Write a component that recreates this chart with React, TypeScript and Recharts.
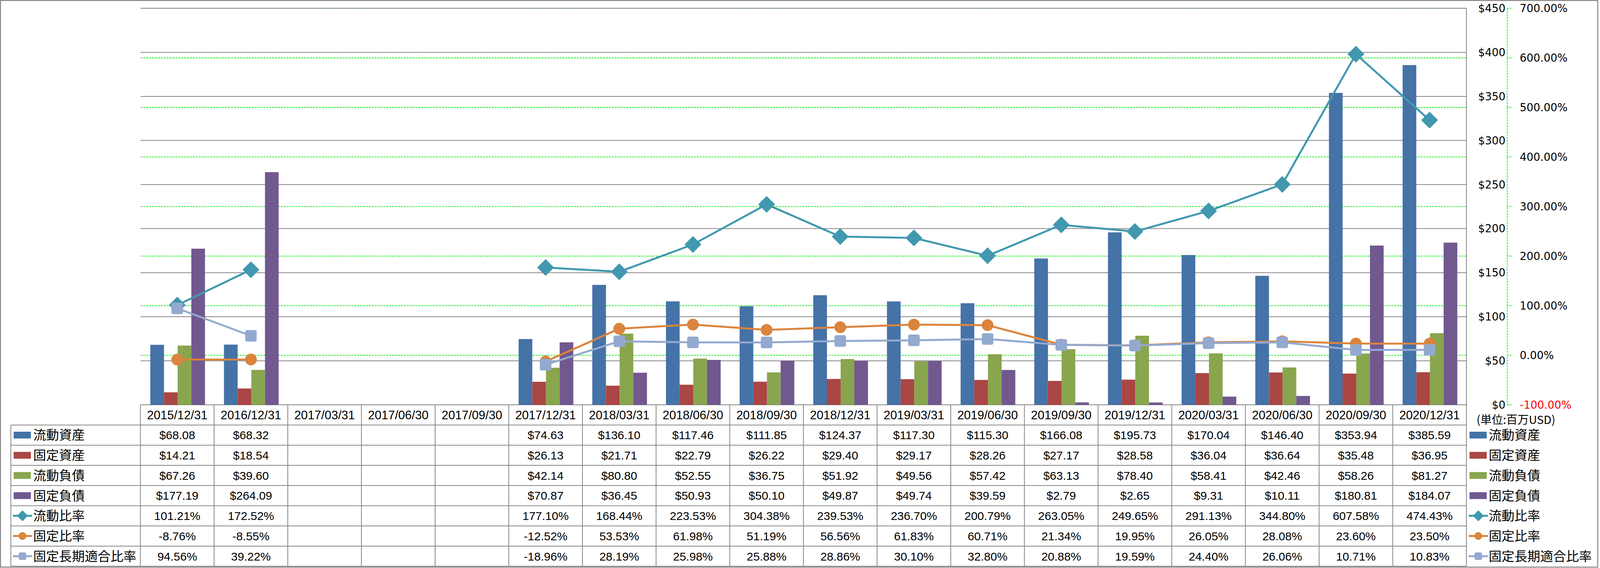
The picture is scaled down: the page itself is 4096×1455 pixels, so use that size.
import { Bar, ComposedChart, Line, ReferenceLine, XAxis, YAxis } from 'recharts'

const DATES = [
  '2015/12/31', '2016/12/31', '2017/03/31', '2017/06/30', '2017/09/30', '2017/12/31',
  '2018/03/31', '2018/06/30', '2018/09/30', '2018/12/31', '2019/03/31', '2019/06/30',
  '2019/09/30', '2019/12/31', '2020/03/31', '2020/06/30', '2020/09/30', '2020/12/31',
]

// 単位: 百万USD
const CURRENT_ASSETS = [68.08, 68.32, null, null, null, 74.63, 136.1, 117.46, 111.85, 124.37, 117.3, 115.3, 166.08, 195.73, 170.04, 146.4, 353.94, 385.59]
const FIXED_ASSETS = [14.21, 18.54, null, null, null, 26.13, 21.71, 22.79, 26.22, 29.4, 29.17, 28.26, 27.17, 28.58, 36.04, 36.64, 35.48, 36.95]
const CURRENT_LIABILITIES = [67.26, 39.6, null, null, null, 42.14, 80.8, 52.55, 36.75, 51.92, 49.56, 57.42, 63.13, 78.4, 58.41, 42.46, 58.26, 81.27]
const FIXED_LIABILITIES = [177.19, 264.09, null, null, null, 70.87, 36.45, 50.93, 50.1, 49.87, 49.74, 39.59, 2.79, 2.65, 9.31, 10.11, 180.81, 184.07]

// %
const CURRENT_RATIO = [101.21, 172.52, null, null, null, 177.1, 168.44, 223.53, 304.38, 239.53, 236.7, 200.79, 263.05, 249.65, 291.13, 344.8, 607.58, 474.43]
const FIXED_RATIO = [-8.76, -8.55, null, null, null, -12.52, 53.53, 61.98, 51.19, 56.56, 61.83, 60.71, 21.34, 19.95, 26.05, 28.08, 23.6, 23.5]
const FIXED_LONG_TERM_RATIO = [94.56, 39.22, null, null, null, -18.96, 28.19, 25.98, 25.88, 28.86, 30.1, 32.8, 20.88, 19.59, 24.4, 26.06, 10.71, 10.83]

const USD_TICKS = [0, 50, 100, 150, 200, 250, 300, 350, 400, 450]
const PCT_TICKS = [-100, 0, 100, 200, 300, 400, 500, 600, 700]

const COLORS = {
  ca: '#4572A7',
  fa: '#AA4643',
  cl: '#89A54E',
  fl: '#71588F',
  cr: '#4198AF',
  fr: '#DB843D',
  flr: '#93A9CF',
  grid: '#868686',
  green: '#00ee00',
}

const W = 4096
const H = 1455
const PLOT_LEFT = 359.5
const PLOT_RIGHT = 3754
const PLOT_TOP = 21.3
const PLOT_BOTTOM = 1037
const ROW_H = 51.7
const TABLE_LEFT = 27.7
const USD_AXIS_W = 104.6
const PCT_AXIS_W = 200
const CAT_W = (PLOT_RIGHT - PLOT_LEFT) / DATES.length

// axis ids: recharts stacks right-hand axes so that "a_usd" sits next to the plot
const USD = 'a_usd'
const PCT = 'b_pct'

const NUM_FONT = "'Liberation Sans', 'Noto Sans CJK JP', sans-serif"
const CJK_FONT = "'Noto Sans CJK JP', 'Liberation Sans', sans-serif"
const AXIS_FONT = "'DejaVu Sans', sans-serif"

const money = (v: number | null) => (v == null ? '' : `$${v.toFixed(2)}`)
const pct = (v: number | null) => (v == null ? '' : `${v.toFixed(2)}%`)

const TABLE_ROWS = [
  { key: 'ca', label: '流動資産', values: CURRENT_ASSETS, fmt: money, kind: 'bar' },
  { key: 'fa', label: '固定資産', values: FIXED_ASSETS, fmt: money, kind: 'bar' },
  { key: 'cl', label: '流動負債', values: CURRENT_LIABILITIES, fmt: money, kind: 'bar' },
  { key: 'fl', label: '固定負債', values: FIXED_LIABILITIES, fmt: money, kind: 'bar' },
  { key: 'cr', label: '流動比率', values: CURRENT_RATIO, fmt: pct, kind: 'diamond' },
  { key: 'fr', label: '固定比率', values: FIXED_RATIO, fmt: pct, kind: 'circle' },
  { key: 'flr', label: '固定長期適合比率', values: FIXED_LONG_TERM_RATIO, fmt: pct, kind: 'square' },
] as const

const rows = DATES.map((date, i) => ({
  date,
  ca: CURRENT_ASSETS[i],
  fa: FIXED_ASSETS[i],
  cl: CURRENT_LIABILITIES[i],
  fl: FIXED_LIABILITIES[i],
  cr: CURRENT_RATIO[i],
  fr: FIXED_RATIO[i],
  flr: FIXED_LONG_TERM_RATIO[i],
}))

function Marker({ kind, cx, cy, color, size }: { kind: string; cx: number; cy: number; color: string; size: number }) {
  const h = size / 2
  if (kind === 'diamond') {
    return <path d={`M${cx},${cy - h} L${cx + h},${cy} L${cx},${cy + h} L${cx - h},${cy} Z`} fill={color} stroke={color} strokeWidth={1} />
  }
  if (kind === 'circle') {
    return <circle cx={cx} cy={cy} r={h * 0.7} fill={color} stroke={color} strokeWidth={1} />
  }
  return <rect x={cx - h * 0.68} y={cy - h * 0.68} width={h * 1.36} height={h * 1.36} rx={4} fill={color} stroke={color} strokeWidth={1} />
}

const makeDot = (kind: string, color: string) => (props: any) => {
  const { cx, cy, value, index } = props
  if (value == null || cx == null || cy == null) return <g key={`d-${kind}-${index}`} />
  return (
    <g key={`d-${kind}-${index}`}>
      <Marker kind={kind} cx={cx} cy={cy} color={color} size={42} />
    </g>
  )
}

function UsdTick({ y, payload }: any) {
  return (
    <text x={PLOT_RIGHT + USD_AXIS_W - 4.5} y={y} dy="0.36em" textAnchor="end" fontSize={27.5} fontFamily={AXIS_FONT} fill="#000">
      ${payload.value}
    </text>
  )
}

function PctTick({ y, payload }: any) {
  const v = payload.value as number
  return (
    <text x={3890.5} y={y} dy="0.36em" textAnchor="start" fontSize={27.5} fontFamily={AXIS_FONT} fill={v < 0 ? '#ff0000' : '#000'}>
      {v.toFixed(2)}%
    </text>
  )
}

// one column of the data table under each category
function TableColumn({ x, payload }: any) {
  const i = payload.index as number
  const left = x - CAT_W / 2
  const bottom = PLOT_BOTTOM + ROW_H * 8
  return (
    <g>
      <line x1={left} x2={left} y1={PLOT_BOTTOM} y2={bottom} stroke={COLORS.grid} strokeWidth={2} />
      {i === DATES.length - 1 && (
        <line x1={left + CAT_W} x2={left + CAT_W} y1={PLOT_BOTTOM} y2={bottom} stroke={COLORS.grid} strokeWidth={2} />
      )}
      <text x={x} y={PLOT_BOTTOM + ROW_H / 2} dy="0.36em" textAnchor="middle" fontSize={31} fontFamily={NUM_FONT} fill="#000">
        {payload.value}
      </text>
      {TABLE_ROWS.map((r, k) => (
        <text
          key={r.key}
          x={x}
          y={PLOT_BOTTOM + ROW_H * (k + 1.5)}
          dy="0.36em"
          textAnchor="middle"
          fontSize={30}
          fontFamily={NUM_FONT}
          fill="#000"
        >
          {r.fmt(r.values[i] as number | null)}
        </text>
      ))}
    </g>
  )
}

function LegendKey({ kind, color, x, y }: { kind: string; color: string; x: number; y: number }) {
  if (kind === 'bar') return <rect x={x} y={y - 8.7} width={44} height={17.4} fill={color} />
  return (
    <g>
      <line x1={x - 2} x2={x + 47} y1={y} y2={y} stroke={color} strokeWidth={5} />
      <Marker kind={kind} cx={x + 22.5} cy={y} color={color} size={27} />
    </g>
  )
}

function Overlay() {
  const bottom = PLOT_BOTTOM + ROW_H * 8
  return (
    <svg width={W} height={H} style={{ position: 'absolute', left: 0, top: 0, pointerEvents: 'none' }}>
      {/* no frame on the plot's left side */}
      <rect x={355.5} y={PLOT_TOP - 3} width={4.5} height={PLOT_BOTTOM - PLOT_TOP + 2} fill="#fff" />
      <rect x={1.2} y={1.2} width={4089} height={1451.5} fill="none" stroke={COLORS.grid} strokeWidth={2.5} />
      {[1, 2, 3, 4, 5, 6, 7, 8].map((k) => (
        <line key={k} x1={TABLE_LEFT} x2={PLOT_RIGHT} y1={PLOT_BOTTOM + ROW_H * k} y2={PLOT_BOTTOM + ROW_H * k} stroke={COLORS.grid} strokeWidth={2} />
      ))}
      <line x1={TABLE_LEFT} x2={TABLE_LEFT} y1={PLOT_BOTTOM + ROW_H} y2={bottom} stroke={COLORS.grid} strokeWidth={2} />
      <text x={3780} y={1075.5} dy="0.36em" fontSize={29} fontFamily={CJK_FONT} fill="#000">
        (単位:百万USD)
      </text>
      {TABLE_ROWS.map((r, k) => {
        const cy = PLOT_BOTTOM + ROW_H * (k + 1.5)
        const color = COLORS[r.key as keyof typeof COLORS]
        return (
          <g key={r.key}>
            <LegendKey kind={r.kind} color={color} x={35} y={cy} />
            <text x={85} y={cy} dy="0.36em" fontSize={33} fontFamily={CJK_FONT} fill="#000">
              {r.label}
            </text>
            <LegendKey kind={r.kind} color={color} x={3762} y={cy} />
            <text x={3811} y={cy} dy="0.36em" fontSize={33} fontFamily={CJK_FONT} fill="#000">
              {r.label}
            </text>
          </g>
        )
      })}
    </svg>
  )
}

export default function App() {
  return (
    <div style={{ position: 'absolute', left: 0, top: 0, width: W, height: H, background: '#fff' }}>
      <ComposedChart
        width={W}
        height={H}
        data={rows}
        margin={{ top: PLOT_TOP, left: PLOT_LEFT, right: W - PLOT_RIGHT - USD_AXIS_W - PCT_AXIS_W, bottom: 0 }}
        barGap={0}
        barCategoryGap="13.4%"
      >
        <XAxis
          dataKey="date"
          interval={0}
          height={H - PLOT_BOTTOM}
          axisLine={false}
          tickLine={false}
          tick={(p: any) => <TableColumn key={`col-${p.index}`} {...p} />}
        />
        <YAxis
          yAxisId={PCT}
          orientation="right"
          width={PCT_AXIS_W}
          domain={[-100, 700]}
          ticks={PCT_TICKS}
          axisLine={{ stroke: COLORS.green, strokeWidth: 1.8, strokeDasharray: '5 2.5' }}
          tickLine={{ stroke: COLORS.green, strokeWidth: 1.8, strokeDasharray: '5 2.5' }}
          tickSize={10.7}
          tick={<PctTick />}
        />
        <YAxis
          yAxisId={USD}
          orientation="right"
          width={USD_AXIS_W}
          domain={[0, 450]}
          ticks={USD_TICKS}
          axisLine={{ stroke: COLORS.grid, strokeWidth: 2 }}
          tickLine={false}
          tick={<UsdTick />}
        />
        {/* grid: green dashed for %, solid gray for $ (gray on top where they meet) */}
        {PCT_TICKS.map((v) => (
          <ReferenceLine key={`pg-${v}`} yAxisId={PCT} y={v} stroke={COLORS.green} strokeWidth={1.8} strokeDasharray="5 2.5" zIndex={-100} />
        ))}
        {USD_TICKS.map((v) => (
          <ReferenceLine key={`ug-${v}`} yAxisId={USD} y={v} stroke={COLORS.grid} strokeWidth={2} zIndex={-90} />
        ))}
        <Bar yAxisId={USD} dataKey="ca" fill={COLORS.ca} isAnimationActive={false} />
        <Bar yAxisId={USD} dataKey="fa" fill={COLORS.fa} isAnimationActive={false} />
        <Bar yAxisId={USD} dataKey="cl" fill={COLORS.cl} isAnimationActive={false} />
        <Bar yAxisId={USD} dataKey="fl" fill={COLORS.fl} isAnimationActive={false} />
        <Line yAxisId={PCT} dataKey="cr" stroke={COLORS.cr} strokeWidth={5} dot={makeDot('diamond', COLORS.cr)} activeDot={false} isAnimationActive={false} />
        <Line yAxisId={PCT} dataKey="fr" stroke={COLORS.fr} strokeWidth={5} dot={makeDot('circle', COLORS.fr)} activeDot={false} isAnimationActive={false} />
        <Line yAxisId={PCT} dataKey="flr" stroke={COLORS.flr} strokeWidth={5} dot={makeDot('square', COLORS.flr)} activeDot={false} isAnimationActive={false} />
      </ComposedChart>
      <Overlay />
    </div>
  )
}
